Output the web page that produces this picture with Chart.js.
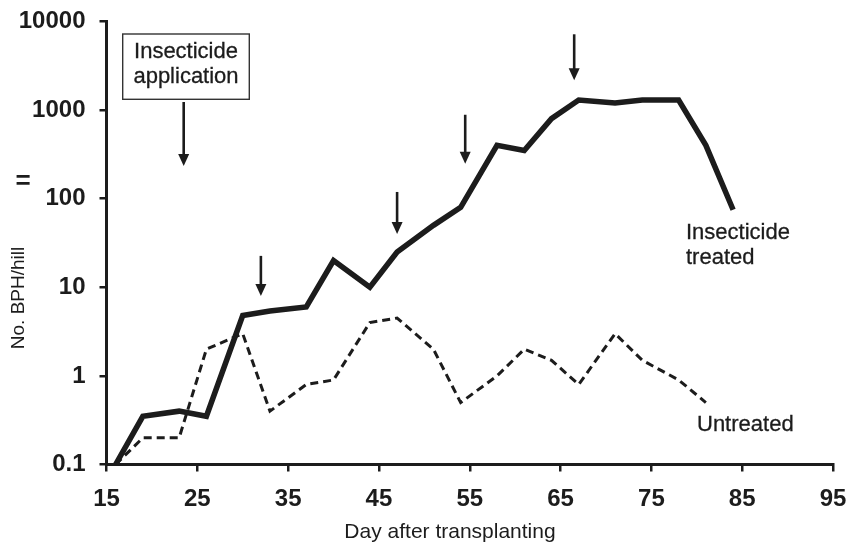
<!DOCTYPE html>
<html>
<head>
<meta charset="utf-8">
<script src="https://cdn.jsdelivr.net/npm/chart.js@4/dist/chart.umd.min.js"></script>
<style>
  html, body { margin: 0; padding: 0; background: #fff; }
  #wrap { width: 849px; height: 544px; }
</style>
</head>
<body>
<div id="wrap"><canvas id="c" width="849" height="544"></canvas></div>
<script>
// Brown planthopper counts per hill, by day after transplanting
const treatedDays   = [16, 19, 23, 26, 30, 33, 37, 40, 44, 47, 51, 54, 58, 61, 64, 67, 71, 74, 78, 81, 84];
const treatedBPH    = [0.1, 0.35, 0.4, 0.35, 4.8, 5.4, 6, 20, 10, 25, 50, 80, 400, 350, 800, 1300, 1200, 1300, 1300, 400, 75];
const untreatedDays = [16, 19, 23, 26, 30, 33, 37, 40, 44, 47, 51, 54, 58, 61, 64, 67, 71, 74, 78, 81];
const untreatedBPH  = [0.1, 0.2, 0.2, 2, 3, 0.4, 0.8, 0.9, 4, 4.5, 2, 0.5, 1, 2, 1.5, 0.8, 3, 1.5, 0.9, 0.5];

// Days on which insecticide was applied
const applicationDays = [23.5, 32, 47, 54.5, 66.5];

// Axis ticks
const xTickValues = [15, 25, 35, 45, 55, 65, 75, 85, 95];
const yTickValues = [0.1, 1, 10, 100, 1000, 10000];
const yTickLabels = ['0.1', '1', '10', '100', '1000', '10000'];

const INK = '#1c1c1c';

function pairs(xs, ys) { return xs.map((x, i) => ({ x: x, y: ys[i] })); }

// Arrow tips (value on the y scale) and shaft lengths in px for each application
const arrowSpec = [
  { tip: 234, len: 64 },
  { tip: 8,   len: 40 },
  { tip: 40,  len: 42 },
  { tip: 248, len: 49 },
  { tip: 2170, len: 46 }
];

// slightly heavier text for the annotation labels
function label(ctx, text, x, y) {
  ctx.fillText(text, x, y);
  ctx.strokeText(text, x, y);
}

const annotations = {
  id: 'annotations',
  beforeDraw(chart) {
    const ctx = chart.ctx;
    ctx.save();
    ctx.fillStyle = '#fff';
    ctx.fillRect(0, 0, chart.width, chart.height);
    ctx.restore();
  },
  afterDraw(chart) {
    const ctx = chart.ctx;
    const xs = chart.scales.x, ys = chart.scales.y;
    ctx.save();

    // application arrows
    ctx.fillStyle = INK;
    ctx.strokeStyle = INK;
    applicationDays.forEach((d, i) => {
      const px = xs.getPixelForValue(d);
      const tipY = ys.getPixelForValue(arrowSpec[i].tip);
      const topY = tipY - arrowSpec[i].len;
      ctx.lineWidth = 2.6;
      ctx.beginPath();
      ctx.moveTo(px, topY);
      ctx.lineTo(px, tipY - 10);
      ctx.stroke();
      ctx.beginPath();
      ctx.moveTo(px - 5.5, tipY - 12);
      ctx.lineTo(px + 5.5, tipY - 12);
      ctx.lineTo(px, tipY);
      ctx.closePath();
      ctx.fill();
    });

    // boxed label
    ctx.lineWidth = 1.4;
    ctx.strokeStyle = '#333';
    ctx.strokeRect(122.7, 34, 126.6, 65.3);
    ctx.fillStyle = INK;
    ctx.strokeStyle = INK;
    ctx.lineWidth = 0.3;
    ctx.font = '22px "Liberation Sans", Arial, sans-serif';
    ctx.textAlign = 'center';
    ctx.textBaseline = 'middle';
    label(ctx, 'Insecticide', 186, 52);
    label(ctx, 'application', 186, 77);

    // series labels
    ctx.textAlign = 'left';
    label(ctx, 'Insecticide', 686, 233);
    label(ctx, 'treated', 686, 258);
    label(ctx, 'Untreated', 697, 425);

    // axis titles
    ctx.font = '21px "Liberation Sans", Arial, sans-serif';
    ctx.textAlign = 'center';
    ctx.fillText('Day after transplanting', 450, 532);

    ctx.save();
    ctx.translate(19, 298);
    ctx.rotate(-Math.PI / 2);
    ctx.font = '19px "Liberation Sans", Arial, sans-serif';
    ctx.fillText('No. BPH/hill', 0, 0);
    ctx.restore();

    ctx.font = 'bold 26px "Liberation Sans", Arial, sans-serif';
    ctx.fillText('=', 23, 182);

    ctx.restore();
  }
};

new Chart(document.getElementById('c'), {
  type: 'line',
  data: {
    datasets: [
      {
        label: 'Insecticide treated',
        data: pairs(treatedDays, treatedBPH),
        borderColor: INK,
        borderWidth: 5.5,
        pointRadius: 0,
        tension: 0,
        fill: false
      },
      {
        label: 'Untreated',
        data: pairs(untreatedDays, untreatedBPH),
        borderColor: INK,
        borderWidth: 3,
        borderDash: [8, 5],
        pointRadius: 0,
        tension: 0,
        fill: false
      }
    ]
  },
  options: {
    responsive: false,
    devicePixelRatio: 1,
    animation: false,
    layout: { padding: { left: 0, right: 16, top: 21.5, bottom: 0 } },
    plugins: {
      legend: { display: false },
      tooltip: { enabled: false }
    },
    scales: {
      x: {
        type: 'linear',
        min: 15,
        max: 95,
        afterBuildTicks(scale) { scale.ticks = xTickValues.map(v => ({ value: v })); },
        afterFit(scale) {
          scale.height = 79.5;
          scale.paddingLeft = 0;
          scale.paddingRight = 0;
        },
        ticks: {
          color: INK,
          padding: 13,
          font: { family: '"Liberation Sans", Arial, sans-serif', size: 24, weight: 'bold' },
          maxRotation: 0
        },
        grid: { drawOnChartArea: false, drawTicks: true, tickLength: 7, color: INK, lineWidth: 2.5 },
        border: { display: true, color: INK, width: 3 }
      },
      y: {
        type: 'logarithmic',
        min: 0.1,
        max: 10000,
        afterBuildTicks(scale) { scale.ticks = yTickValues.map(v => ({ value: v })); },
        afterFit(scale) {
          scale.width = 106.5;
          scale.paddingTop = 0;
          scale.paddingBottom = 0;
        },
        ticks: {
          color: INK,
          padding: 14,
          font: { family: '"Liberation Sans", Arial, sans-serif', size: 24, weight: 'bold' },
          major: { enabled: false },
          callback(value) {
            const i = yTickValues.indexOf(value);
            return i >= 0 ? yTickLabels[i] : '';
          }
        },
        grid: { drawOnChartArea: false, drawTicks: true, tickLength: 7, color: INK, lineWidth: 2.5 },
        border: { display: true, color: INK, width: 3 }
      }
    }
  },
  plugins: [annotations]
});
</script>
</body>
</html>
